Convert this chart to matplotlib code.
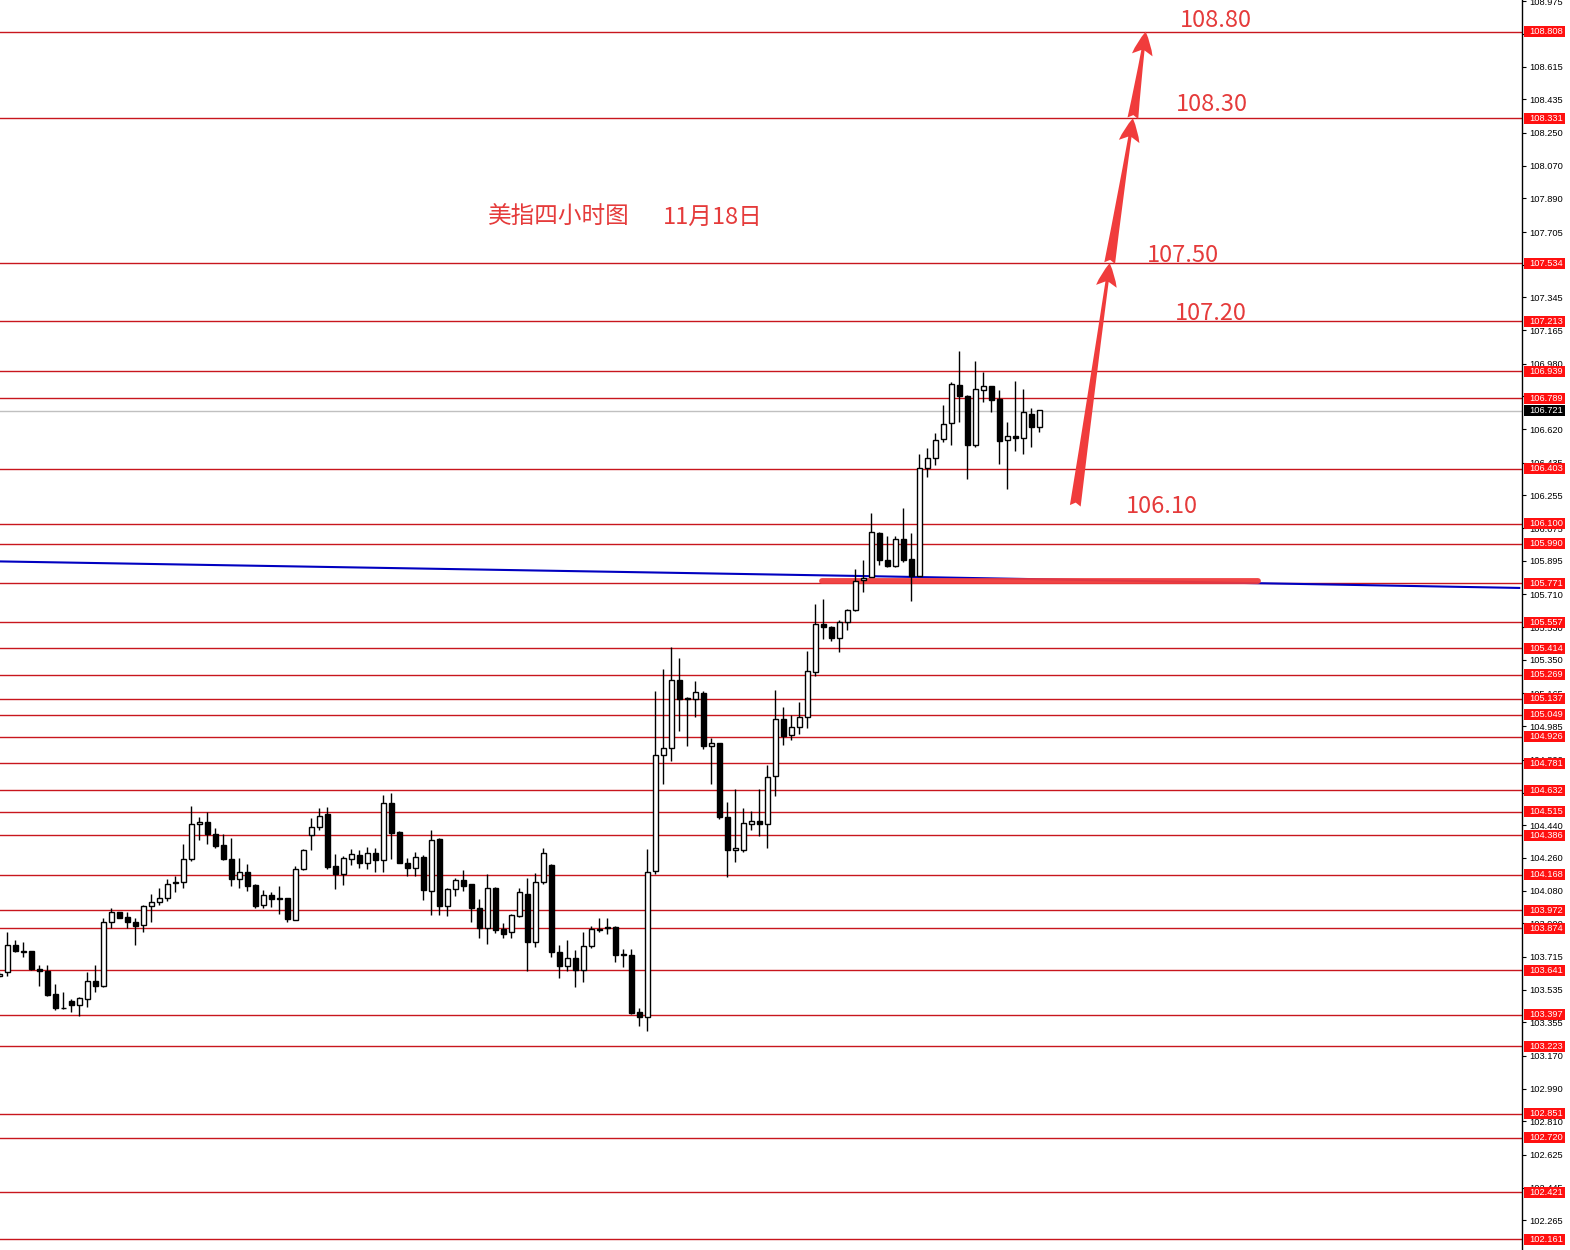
import matplotlib
matplotlib.use("Agg")
import matplotlib.pyplot as plt
import matplotlib.transforms as mtransforms
from matplotlib.patches import FancyArrowPatch, Rectangle

plt.rcParams['font.family'] = ['Noto Sans CJK SC', 'DejaVu Sans']

# ---------------------------------------------------------------------------
# Data: 4H candles (open, high, low, close)
# ---------------------------------------------------------------------------
opens = [
    103.608, 103.630, 103.780, 103.749, 103.745, 103.648, 103.639, 103.511, 103.436, 103.474,
    103.452, 103.483, 103.580, 103.553, 103.905, 103.963, 103.936, 103.905, 103.890, 103.993,
    104.015, 104.042, 104.123, 104.125, 104.253, 104.449, 104.460, 104.394, 104.330, 104.256,
    104.143, 104.180, 104.110, 104.002, 104.057, 104.033, 104.040, 103.919, 104.198, 104.385,
    104.432, 104.500, 104.213, 104.174, 104.256, 104.277, 104.234, 104.286, 104.247, 104.561,
    104.403, 104.234, 104.207, 104.267, 104.079, 104.363, 103.993, 104.088, 104.137, 104.115,
    103.982, 103.874, 104.097, 103.868, 103.850, 103.941, 104.064, 103.795, 104.125, 104.220,
    103.740, 103.663, 103.707, 103.645, 103.773, 103.864, 103.874, 103.881, 103.729, 103.725,
    103.410, 103.383, 104.188, 104.824, 104.864, 105.242, 105.138, 105.136, 105.169, 104.875,
    104.892, 104.485, 104.302, 104.302, 104.447, 104.463, 104.447, 104.711, 105.024, 104.934,
    104.980, 105.035, 105.286, 105.549, 105.533, 105.469, 105.560, 105.623, 105.791, 105.804,
    106.048, 105.900, 105.868, 106.015, 105.905, 105.810, 106.405, 106.460, 106.566, 106.653,
    106.864, 106.802, 106.530, 106.838, 106.857, 106.787, 106.561, 106.585, 106.570, 106.702,
    106.631,
]
highs = [
    103.630, 103.850, 103.808, 103.795, 103.749, 103.670, 103.670, 103.566, 103.520, 103.483,
    103.493, 103.634, 103.670, 103.927, 103.987, 103.965, 103.960, 103.927, 104.000, 104.060,
    104.097, 104.143, 104.161, 104.335, 104.546, 104.485, 104.515, 104.427, 104.394, 104.372,
    104.262, 104.225, 104.115, 104.082, 104.075, 104.106, 104.040, 104.216, 104.308, 104.482,
    104.537, 104.542, 104.280, 104.271, 104.308, 104.302, 104.322, 104.317, 104.606, 104.616,
    104.408, 104.262, 104.295, 104.275, 104.412, 104.368, 104.097, 104.148, 104.192, 104.119,
    104.033, 104.170, 104.101, 103.901, 103.954, 104.097, 104.148, 104.176, 104.317, 104.225,
    103.780, 103.808, 103.753, 103.855, 103.886, 103.927, 103.927, 103.886, 103.758, 103.758,
    103.432, 104.311, 105.176, 105.300, 105.420, 105.359, 105.145, 105.233, 105.181, 104.919,
    104.895, 104.568, 104.641, 104.535, 104.518, 104.641, 104.773, 105.185, 105.090, 105.044,
    105.117, 105.398, 105.656, 105.683, 105.537, 105.568, 105.628, 105.848, 105.901, 106.159,
    106.052, 106.030, 106.034, 106.184, 106.048, 106.484, 106.515, 106.598, 106.754, 106.882,
    107.050, 106.809, 106.994, 106.937, 106.860, 106.837, 106.658, 106.884, 106.842, 106.737,
    106.726,
]
lows = [
    103.603, 103.612, 103.740, 103.712, 103.645, 103.557, 103.498, 103.425, 103.428, 103.410,
    103.388, 103.441, 103.520, 103.551, 103.877, 103.927, 103.877, 103.782, 103.853, 103.908,
    104.000, 104.024, 104.070, 104.097, 104.244, 104.359, 104.339, 104.317, 104.249, 104.106,
    104.097, 104.079, 103.982, 103.982, 103.991, 103.954, 103.905, 103.919, 104.192, 104.304,
    104.414, 104.201, 104.088, 104.112, 104.222, 104.207, 104.198, 104.185, 104.185, 104.253,
    104.231, 104.158, 104.158, 104.029, 103.945, 103.945, 103.941, 104.051, 104.079, 103.905,
    103.819, 103.786, 103.846, 103.817, 103.817, 103.936, 103.635, 103.767, 104.119, 103.712,
    103.597, 103.635, 103.547, 103.575, 103.762, 103.850, 103.844, 103.689, 103.657, 103.401,
    103.337, 103.309, 104.174, 104.665, 104.791, 104.956, 104.874, 105.035, 104.861, 104.665,
    104.476, 104.155, 104.238, 104.293, 104.412, 104.381, 104.315, 104.601, 104.883, 104.907,
    104.940, 104.974, 105.262, 105.463, 105.454, 105.394, 105.515, 105.619, 105.721, 105.804,
    105.874, 105.863, 105.859, 105.890, 105.675, 105.810, 106.355, 106.423, 106.548, 106.530,
    106.658, 106.346, 106.520, 106.772, 106.717, 106.429, 106.291, 106.502, 106.484, 106.520,
    106.603,
]
closes = [
    103.621, 103.780, 103.749, 103.743, 103.648, 103.635, 103.507, 103.434, 103.432, 103.452,
    103.489, 103.580, 103.553, 103.905, 103.960, 103.932, 103.905, 103.886, 103.993, 104.015,
    104.042, 104.119, 104.126, 104.256, 104.449, 104.460, 104.394, 104.326, 104.256, 104.143,
    104.180, 104.106, 103.996, 104.057, 104.033, 104.042, 103.923, 104.198, 104.302, 104.430,
    104.491, 104.211, 104.174, 104.258, 104.284, 104.234, 104.286, 104.247, 104.561, 104.399,
    104.234, 104.207, 104.267, 104.084, 104.359, 103.993, 104.088, 104.137, 104.106, 103.982,
    103.874, 104.097, 103.864, 103.844, 103.945, 104.070, 103.795, 104.125, 104.286, 103.740,
    103.663, 103.707, 103.645, 103.773, 103.868, 103.868, 103.877, 103.727, 103.725, 103.405,
    103.383, 104.185, 104.824, 104.864, 105.242, 105.136, 105.134, 105.172, 104.874, 104.892,
    104.485, 104.302, 104.315, 104.454, 104.463, 104.447, 104.705, 105.024, 104.929, 104.980,
    105.035, 105.288, 105.549, 105.531, 105.469, 105.560, 105.623, 105.784, 105.799, 106.052,
    105.901, 105.868, 106.015, 105.901, 105.810, 106.405, 106.460, 106.561, 106.649, 106.870,
    106.800, 106.530, 106.842, 106.855, 106.778, 106.557, 106.585, 106.570, 106.713, 106.631,
    106.726,
]

# horizontal support / resistance levels (red) and the current price (grey)
levels = [
    108.808, 108.331, 107.534, 107.213, 106.939, 106.789, 106.403, 106.100, 105.990, 105.771,
    105.557, 105.414, 105.269, 105.137, 105.049, 104.926, 104.781, 104.632, 104.515, 104.386,
    104.168, 103.972, 103.874, 103.641, 103.397, 103.223, 102.851, 102.720, 102.421, 102.161,
]
last_price = 106.721

# right-hand price scale
tick_vals = [
    108.975, 108.795, 108.615, 108.435, 108.250, 108.070, 107.890, 107.705, 107.525, 107.345,
    107.165, 106.980, 106.800, 106.620, 106.435, 106.255, 106.075, 105.895, 105.710, 105.530,
    105.350, 105.165, 104.985, 104.800, 104.620, 104.440, 104.260, 104.080, 103.900, 103.715,
    103.535, 103.355, 103.170, 102.990, 102.810, 102.625, 102.445, 102.265,
]

# slow moving average (blue), sampled at a few bar positions
ma_x = [0, 106, 190]
ma_vals = [105.892, 105.813, 105.746]

# hand-drawn red marker line near 105.78
mark_x = [102.8, 157.3]
mark_level = 105.785

# projected path: 106.10 -> 107.50 -> 108.30 -> 108.80
path_x = [134.5, 138.8, 141.7, 143.3]
path_y = [106.198, 107.534, 108.331, 108.808]

target_texts = ["108.80", "108.30", "107.50", "107.20", "106.10"]
target_x = [147.6, 147.1, 143.5, 147.0, 140.8]
target_y = [108.836, 108.372, 107.541, 107.221, 106.159]

title_parts = ["美指四小时图", "11月18日"]
title_x = [61.1, 83.0]
title_y = 107.75

# ---------------------------------------------------------------------------
W, H = 1570, 1250
fig = plt.figure(figsize=(W / 100, H / 100), dpi=100)
fig.patch.set_facecolor("white")
ax = fig.add_axes([0, 0, 1522 / W, 1])
ax.set_xlim(0.09, 190.34)
ax.set_ylim(102.102, 108.982)

LINE_RED = "#c8161d"
TXT_RED = "#e53b3b"

for lv in levels:
    ax.axhline(lv, color=LINE_RED, lw=1.0, zorder=1)
ax.axhline(last_price, color="#c0c0c0", lw=1.0, zorder=1)

ax.plot(ma_x, ma_vals, color="#0000c0", lw=1.5, zorder=2)
ax.plot(mark_x, [mark_level, mark_level], color="#f03c3c", lw=4.2,
        solid_capstyle="round", alpha=0.95, zorder=2)

# candles
xs = list(range(len(opens)))
ax.vlines(xs, lows, highs, color="black", lw=1.0, zorder=3)
up = [c >= o for o, c in zip(opens, closes)]
bottoms = [min(o, c) for o, c in zip(opens, closes)]
heights = [max(abs(c - o), 0.004) for o, c in zip(opens, closes)]
faces = ["white" if u else "black" for u in up]
ax.bar(xs, heights, bottom=bottoms, width=0.62, color=faces,
       edgecolor="black", linewidth=1.0, zorder=4)

# projected arrows
for i in range(len(path_x) - 1):
    arr = FancyArrowPatch((path_x[i], path_y[i]), (path_x[i + 1], path_y[i + 1]),
                          arrowstyle="fancy,head_length=1.3,head_width=1.15,tail_width=0.6",
                          mutation_scale=13, color="#f03c3c", lw=0,
                          shrinkA=0, shrinkB=0, zorder=6)
    ax.add_patch(arr)

for s, x, y in zip(target_texts, target_x, target_y):
    ax.text(x, y, s, color=TXT_RED, fontsize=17, ha="left", va="baseline", zorder=7)
for s, x in zip(title_parts, title_x):
    ax.text(x, title_y, s, color=TXT_RED, fontsize=17, ha="left", va="baseline", zorder=7)

# right price scale
ax.yaxis.tick_right()
ax.set_yticks(tick_vals)
ax.set_yticklabels([f"{v:.3f}" for v in tick_vals], family="Liberation Sans", fontsize=6.7)
ax.tick_params(axis="y", direction="out", length=3, width=0.8, pad=2, colors="black")
ax.set_xticks([])
for side in ["top", "left", "bottom"]:
    ax.spines[side].set_visible(False)
ax.spines["right"].set_linewidth(1.0)

tr = mtransforms.blended_transform_factory(ax.transAxes, ax.transData)
box_h = 11 / 181.7
for lv, bg in [(v, "#ff1010") for v in levels] + [(last_price, "black")]:
    ax.add_patch(Rectangle((1.0013, lv - box_h / 2), 0.027, box_h, transform=tr,
                           facecolor=bg, edgecolor="none", clip_on=False, zorder=8))
    ax.text(1.0046, lv, f"{lv:.3f}", transform=tr, color="white", fontsize=6.7,
            family="Liberation Sans", ha="left", va="center", clip_on=False, zorder=9)

fig.savefig("out.png", dpi=100)
